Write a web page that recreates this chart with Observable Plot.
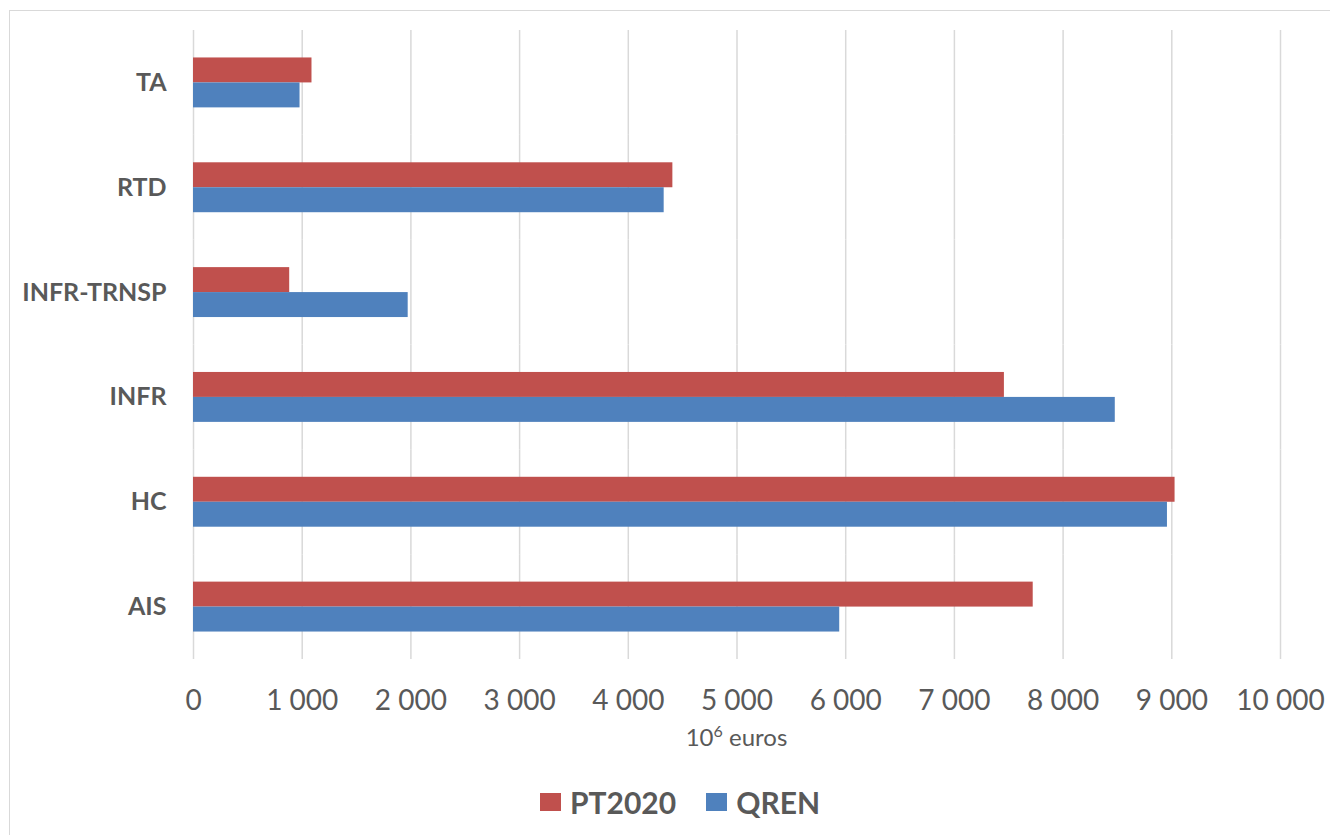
<!DOCTYPE html>
<html>
<head>
<meta charset="utf-8">
<script src="https://cdn.jsdelivr.net/npm/d3@7"></script>
<script src="https://cdn.jsdelivr.net/npm/@observablehq/plot@0.6"></script>
<style>
  html, body { margin: 0; padding: 0; background: #fff; }
  #wrap { position: relative; width: 1330px; height: 835px; overflow: hidden; font-family: Lato, "Open Sans", sans-serif; color: #595959; }
  #frame { position: absolute; left: 9px; top: 10px; width: 1340px; height: 840px; border: 1px solid #d9d9d9; box-sizing: border-box; }
  #chart { position: absolute; left: 0; top: 0; }
  #xlabel { position: absolute; left: 0; width: 1473px; top: 722px; text-align: center; font-size: 24px; }
  #xlabel sup { font-size: 16px; vertical-align: 9px; line-height: 0; }
  #legend { position: absolute; left: 540px; top: 784px; display: flex; align-items: center; font-weight: bold; font-size: 30px; }
  .sw { display: inline-block; width: 21px; height: 18px; margin-right: 9px; }
  .item { display: flex; align-items: center; margin-right: 30px; }
</style>
</head>
<body>
<div id="wrap">
  <div id="frame"></div>
  <div id="chart"></div>
  <div id="xlabel">10<sup>6</sup> euros</div>
  <div id="legend"></div>
</div>
<script>
const categories = ["TA", "RTD", "INFR-TRNSP", "INFR", "HC", "AIS"];
const seriesNames = ["PT2020", "QREN"];
const pt2020 = [1090, 4410, 885, 7460, 9030, 7725];
const qren = [980, 4330, 1975, 8480, 8960, 5945];
const xTicks = [0, 1000, 2000, 3000, 4000, 5000, 6000, 7000, 8000, 9000, 10000];
const colors = ["#C0504D", "#4F81BD"];

const rows = [];
categories.forEach((c, i) => {
  rows.push({category: c, series: seriesNames[0], value: pt2020[i]});
  rows.push({category: c, series: seriesNames[1], value: qren[i]});
});

const fmt = d => d3.format(",")(d).replace(/,/g, " ");

const chart = Plot.plot({
  width: 1330,
  height: 770,
  marginLeft: 193,
  marginRight: 50,
  marginTop: 30,
  marginBottom: 111,
  style: {fontFamily: "Lato, 'Open Sans', sans-serif", color: "#595959", background: "transparent", overflow: "visible"},
  x: {domain: [0, 10000], ticks: xTicks, axis: null},
  fy: {domain: categories, padding: 0, round: false, axis: null},
  y: {domain: seriesNames, paddingInner: 0, paddingOuter: 1.1, round: false, axis: null},
  color: {domain: seriesNames, range: colors},
  marks: [
    Plot.gridX(xTicks, {stroke: "#d9d9d9", strokeOpacity: 1, strokeWidth: 1.5}),
    Plot.barX(rows, {fy: "category", y: "series", x: "value", fill: "series"}),
    Plot.axisFy({anchor: "left", tickSize: 0, tickPadding: 27, fontSize: 25, fontWeight: "bold", label: null}),
    Plot.axisX(xTicks, {anchor: "bottom", tickSize: 0, tickPadding: 31, fontSize: 28, tickFormat: fmt, label: null})
  ]
});
document.getElementById("chart").appendChild(chart);

const legend = document.getElementById("legend");
seriesNames.forEach((s, i) => {
  const it = document.createElement("div");
  it.className = "item";
  const sw = document.createElement("span");
  sw.className = "sw";
  sw.style.background = colors[i];
  it.appendChild(sw);
  it.appendChild(document.createTextNode(s));
  legend.appendChild(it);
});
</script>
</body>
</html>
